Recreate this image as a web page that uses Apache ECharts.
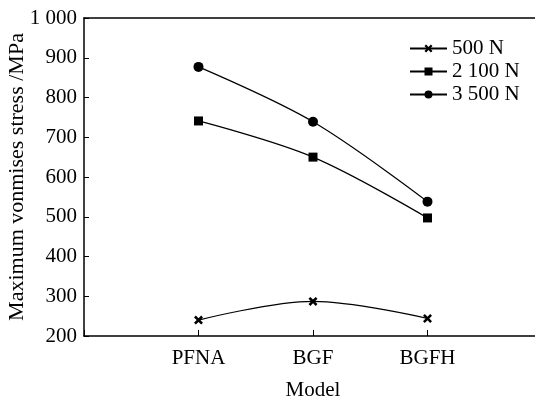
<!DOCTYPE html>
<html>
<head>
<meta charset="utf-8">
<script src="https://cdn.jsdelivr.net/npm/echarts@6/dist/echarts.min.js"></script>
<style>
  html, body { margin: 0; padding: 0; background: #fff; }
  #chart { width: 535px; height: 397px; }
</style>
</head>
<body>
<div id="chart"></div>
<script>
const categories = ["", "PFNA", "BGF", "BGFH", ""];
const load500 = [null, 240, 287, 244, null];
const load2100 = [null, 741, 650, 497, null];
const load3500 = [null, 877, 739, 538, null];
const yTicks = [200, 1000, 100];

const FONT = "Liberation Serif";
const FS = 21;
const crossPath =
  "path://M0,2L2,0L5,3L8,0L10,2L7,5L10,8L8,10L5,7L2,10L0,8L3,5Z";

function lineSeries(name, data, symbol, size) {
  return {
    name,
    type: "line",
    data,
    smooth: 0.35,
    symbol,
    symbolSize: size,
    showAllSymbol: true,
    connectNulls: false,
    lineStyle: { color: "#000", width: 1.2 },
    itemStyle: { color: "#000" },
  };
}

const chart = echarts.init(document.getElementById("chart"));
chart.setOption({
  backgroundColor: "#fff",
  animation: false,
  textStyle: { fontFamily: FONT, color: "#000" },
  grid: {
    left: 84, top: 18, right: -7, bottom: 61,
    outerBoundsMode: "none",
    containLabel: false,
    show: false,
  },
  legend: {
    left: 409, top: 38, orient: "vertical", padding: 0,
    itemWidth: 37, itemHeight: 10, itemGap: 2,
    textStyle: { fontFamily: FONT, fontSize: FS, color: "#000" },
    data: ["500 N", "2 100 N", "3 500 N"],
  },
  xAxis: [
    {
      type: "category",
      data: categories,
      boundaryGap: false,
      name: "Model",
      nameLocation: "middle",
      nameGap: 44,
      nameTextStyle: { fontFamily: FONT, fontSize: FS, color: "#000" },
      axisLine: { lineStyle: { color: "#000", width: 1.5 } },
      axisTick: { inside: true, length: 6, lineStyle: { color: "#000" } },
      axisLabel: { fontFamily: FONT, fontSize: FS, color: "#000", margin: 12 },
      splitLine: { show: false },
    },
    {
      type: "category",
      data: categories,
      boundaryGap: false,
      position: "top",
      axisLine: { lineStyle: { color: "#000", width: 1.5 } },
      axisTick: { show: false },
      axisLabel: { show: false },
      splitLine: { show: false },
    },
  ],
  yAxis: {
    type: "value",
    min: yTicks[0],
    max: yTicks[1],
    interval: yTicks[2],
    name: "Maximum vonmises stress /MPa",
    nameLocation: "middle",
    nameGap: 56,
    nameMoveOverlap: false,
    nameTextStyle: { fontFamily: FONT, fontSize: 22, color: "#000" },
    axisLine: { show: true, lineStyle: { color: "#000", width: 1.5 } },
    axisTick: { show: true, inside: true, length: 5, lineStyle: { color: "#000" } },
    axisLabel: {
      fontFamily: FONT, fontSize: FS, color: "#000", margin: 7,
      formatter: (v) => (v >= 1000 ? "1 000" : String(v)),
    },
    splitLine: { show: false },
  },
  series: [
    lineSeries("500 N", load500, crossPath, 9),
    lineSeries("2 100 N", load2100, "rect", 9),
    lineSeries("3 500 N", load3500, "circle", 10),
  ],
});
</script>
</body>
</html>
